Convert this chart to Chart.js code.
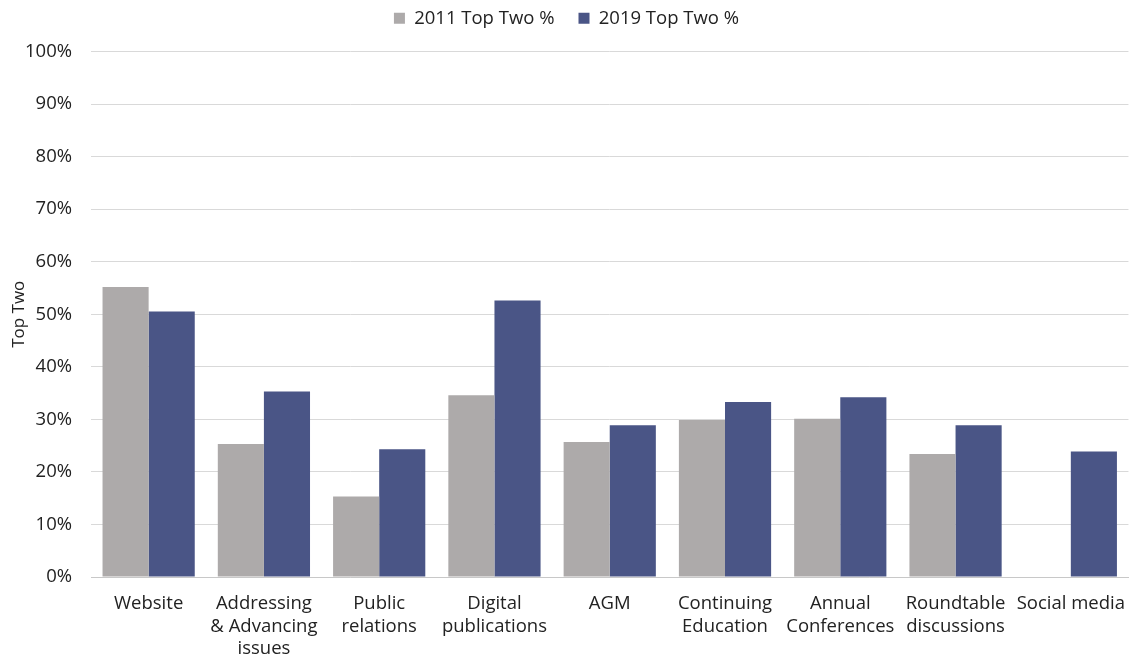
<!DOCTYPE html>
<html>
<head>
<meta charset="utf-8">
<script src="https://cdn.jsdelivr.net/npm/chart.js@4"></script>
<style>
  html, body { margin: 0; padding: 0; background: #fff; }
  #wrap { width: 1133px; height: 657px; position: relative; }
</style>
</head>
<body>
<div id="wrap"><canvas id="topTwo"></canvas></div>
<script>
const categories = [
  'Website',
  ['Addressing', '& Advancing', 'issues'],
  ['Public', 'relations'],
  ['Digital', 'publications'],
  'AGM',
  ['Continuing', 'Education'],
  ['Annual', 'Conferences'],
  ['Roundtable', 'discussions'],
  'Social media'
];
const top2011 = [55.2, 25.3, 15.3, 34.6, 25.7, 29.9, 30.1, 23.4, null];
const top2019 = [50.5, 35.3, 24.3, 52.6, 28.9, 33.3, 34.2, 28.9, 23.9];
const yTicks = [0, 10, 20, 30, 40, 50, 60, 70, 80, 90, 100];

Chart.defaults.font.family = '"Open Sans", "Noto Sans", sans-serif';
Chart.defaults.font.size = 18.5;
Chart.defaults.color = '#222';

// give the legend some extra room below its items
const legendGap = {
  id: 'legendGap',
  beforeInit(chart) {
    const fit = chart.legend.fit;
    chart.legend.fit = function () {
      fit.call(this);
      this.height += 14;
    };
  }
};

function initializeTopTwoChart() {
  const ctx = document.getElementById('topTwo');
  if (!ctx) return;

  new Chart(ctx, {
    type: 'bar',
    data: {
      labels: categories,
      datasets: [
        {
          label: '2011 Top Two %',
          data: top2011,
          backgroundColor: '#ADAAAA'
        },
        {
          label: '2019 Top Two %',
          data: top2019,
          backgroundColor: '#4A5586'
        }
      ]
    },
    plugins: [legendGap],
    options: {
      responsive: true,
      maintainAspectRatio: false,
      animation: false,
      categoryPercentage: 0.8,
      barPercentage: 1.0,
      layout: { padding: { top: -15, right: 0, left: 0, bottom: 0 } },
      plugins: {
        legend: {
          position: 'top',
          labels: {
            boxWidth: 11,
            boxHeight: 11,
            padding: 24,
            font: { size: 18.5 }
          }
        },
        tooltip: { enabled: false }
      },
      scales: {
        x: {
          grid: { display: false },
          border: { color: '#C8C8C8' },
          ticks: { maxRotation: 0, autoSkip: false, padding: 8 },
          afterFit: (scale) => { scale.height = 80; }
        },
        y: {
          min: 0,
          max: 100,
          afterBuildTicks: (scale) => {
            scale.ticks = yTicks.map(v => ({ value: v }));
          },
          afterFit: (scale) => { scale.width = 91; },
          ticks: {
            callback: (v) => v + '%',
            padding: 19
          },
          grid: { color: '#D9D9D9', drawTicks: false },
          border: { display: false },
          title: {
            display: true,
            text: 'Top Two',
            font: { size: 17 },
            padding: { top: 9, bottom: 0 }
          }
        }
      }
    }
  });
}

document.addEventListener('DOMContentLoaded', () => {
  initializeTopTwoChart();
});
</script>
</body>
</html>
